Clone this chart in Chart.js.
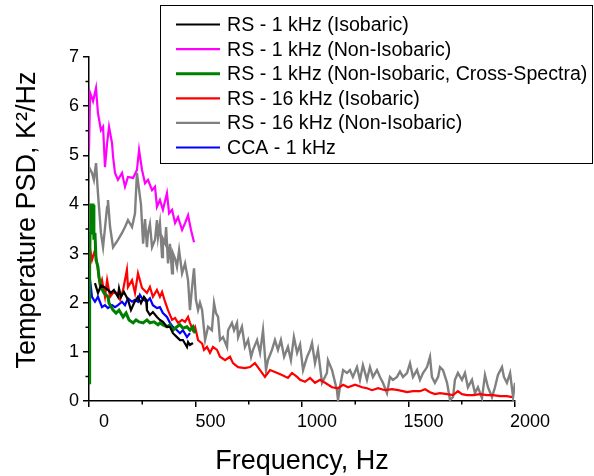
<!DOCTYPE html>
<html>
<head>
<meta charset="utf-8">
<script src="https://cdn.jsdelivr.net/npm/chart.js@4.4.1/dist/chart.umd.min.js"></script>
<style>
  body { margin: 0; background: #fff; }
  #chart { display: block; }
</style>
</head>
<body>
<canvas id="chart" width="594" height="476"></canvas>
<script>
// RS - 1 kHz (Isobaric)
const rs1IsoHz = [28,42,56,70,89,103,117,136,141,150,164,183,197,211,230,244,258,268,272,286,300,319,333,347,366,380,394,413,427,441,460,465,474,488];
const rs1IsoPsd = [2.4,2.2,2.35,2.32,2.26,2.2,2.26,2.12,2.29,2.12,2.22,2.06,1.85,1.99,2.12,1.99,2.12,2.06,1.85,1.75,1.81,1.71,1.65,1.61,1.51,1.51,1.38,1.3,1.24,1.24,1.1,1.2,1.14,1.18];

// RS - 1 kHz (Non-Isobaric)
const rs1NonIsoHz = [0,5,19,33,42,56,66,75,85,94,108,113,122,136,155,169,183,207,225,235,249,263,277,296,310,319,333,347,366,376,390,404,418,437,451,465,479,493];
const rs1NonIsoPsd = [5.1,6.27,6.1,6.37,5.86,5.51,5.58,4.76,5.25,5.58,5.25,4.97,4.64,4.5,4.64,4.36,4.56,4.54,4.7,5.11,4.7,4.43,4.5,4.29,4.36,3.95,4.09,3.89,4.23,3.82,3.89,3.62,3.74,3.48,3.62,3.78,3.48,3.23];

// RS - 1 kHz (Non-Isobaric, Cross-Spectra)
const rs1CrossHz = [0,3,5,9,19,23,28,33,42,47,56,70,89,94,113,127,141,160,174,188,207,221,235,254,272,286,305,324,333,347,366,380,394,413,427,441,460,474,488,498];
const rs1CrossPsd = [0.37,2.8,3.42,3.99,3.99,3.28,3.42,2.87,2.73,2.52,2.32,2.2,2.12,1.99,1.85,1.79,1.85,1.71,1.79,1.65,1.59,1.65,1.61,1.59,1.65,1.59,1.61,1.55,1.59,1.55,1.51,1.55,1.44,1.51,1.55,1.48,1.51,1.44,1.51,1.38];

// RS - 16 kHz (Isobaric)
const rs16IsoHz = [0,5,14,28,38,52,61,75,85,99,113,131,146,160,178,183,202,216,230,249,272,286,300,319,333,343,357,371,390,404,418,437,451,465,474,488,498,512,531,540,554,568,582,601,615,639,662,676,700,732,756,779,803,826,850,873,906,934,953,977,991,1014,1038,1061,1085,1108,1141,1169,1193,1216,1249,1282,1305,1329,1357,1390,1423,1451,1474,1493,1521,1554,1578,1601,1624,1648,1681,1709,1732,1751,1775,1803,1836,1869,1897,1930,1962,1986];
const rs16IsoPsd = [2.9,3.1,2.87,3.07,2.8,2.32,2.46,2.12,2.46,2.12,2.2,2.2,2.06,2.26,2.67,2.32,2.46,2.2,2.6,2.3,2.2,2.32,2.12,2.26,2.12,2.22,2.02,1.85,1.65,1.69,1.59,1.65,1.61,1.71,1.59,1.44,1.51,1.24,1.17,1.04,1.1,0.98,1.1,1.04,0.9,0.83,0.9,0.77,0.69,0.67,0.69,0.77,0.63,0.49,0.63,0.59,0.53,0.47,0.57,0.49,0.43,0.39,0.47,0.37,0.43,0.37,0.28,0.26,0.33,0.28,0.33,0.28,0.26,0.22,0.26,0.22,0.24,0.22,0.2,0.18,0.2,0.2,0.24,0.18,0.14,0.16,0.14,0.12,0.2,0.14,0.12,0.12,0.14,0.12,0.12,0.1,0.1,0.08];

// RS - 16 kHz (Non-Isobaric)
const rs16NonIsoHz = [0,14,23,33,42,56,66,85,89,99,113,136,155,169,183,202,216,225,235,244,254,263,272,277,286,296,310,319,324,333,343,347,357,362,371,380,390,394,404,413,423,437,451,465,474,484,493,502,512,521,531,545,559,577,587,596,606,615,629,648,653,671,681,695,700,718,732,747,761,770,789,803,817,831,840,859,873,887,901,916,934,948,962,977,991,1005,1024,1038,1047,1061,1075,1094,1117,1122,1141,1164,1169,1178,1193,1211,1225,1239,1258,1272,1286,1305,1319,1333,1352,1366,1380,1399,1413,1427,1446,1460,1474,1493,1507,1521,1540,1554,1568,1587,1601,1610,1624,1639,1648,1662,1681,1695,1709,1718,1732,1751,1765,1779,1798,1812,1826,1845,1859,1873,1892,1906,1920,1939,1948,1962,1977,1991,2000];
const rs16NonIsoPsd = [4.76,4.64,4.5,4.84,4.23,3.42,3.13,3.95,4.09,3.54,3.13,3.28,3.42,3.54,3.68,3.54,3.82,4.64,4.3,4.0,3.2,3.7,3.13,3.42,3.6,3.13,3.28,3.68,3.34,3.62,2.93,3.3,3.21,3.54,2.8,3.2,2.6,3.01,2.9,2.73,3.07,2.6,2.8,2.46,1.85,2.32,2.7,2.06,1.85,2.0,1.85,1.24,1.51,1.44,1.99,1.79,1.71,1.24,1.30,1.1,1.44,1.59,1.44,1.59,1.30,1.51,1.1,1.24,0.9,1.04,1.24,0.98,1.44,0.63,0.83,1.04,1.24,1.04,1.24,0.9,1.1,0.83,1.30,0.98,1.15,0.63,0.9,1.04,1.18,0.77,1.04,0.37,0.57,0.83,0.63,0.22,0.02,0.28,0.63,0.57,0.63,0.49,0.69,0.43,0.73,0.43,0.69,0.49,0.63,0.49,0.37,0.16,0.49,0.43,0.49,0.6,0.49,0.57,0.77,0.49,0.63,0.43,0.57,0.69,0.9,0.49,0.37,0.49,0.69,0.63,0.37,0.02,0.08,0.43,0.57,0.43,0.57,0.28,0.43,0.16,0.28,0.06,0.53,0.28,0.08,0.28,0.53,0.69,0.49,0.37,0.57,0.08,0.37];

// CCA - 1 kHz
const ccaHz = [0,5,14,28,42,61,75,89,108,122,136,155,169,183,202,216,230,239,254,272,286,300,319,333,347,366,380,394,413,427,441,460,474];
const ccaPsd = [2.4,2.46,2.12,2.02,2.12,1.91,1.95,1.89,1.95,1.91,1.95,2.02,1.95,2.09,2.02,2.06,2.02,2.16,2.06,2.02,2.09,1.95,1.89,1.91,1.79,1.71,1.59,1.51,1.44,1.38,1.44,1.3,1.38];

const xTickLabels = [0, 500, 1000, 1500, 2000];
const yTickLabels = [0, 1, 2, 3, 4, 5, 6, 7];

const FONT = '"Liberation Sans", Arial, sans-serif';

function toPoints(xs, ys) {
    return xs.map((x, i) => ({ x: x, y: ys[i] }));
}

function makeSet(label, xs, ys, color, width) {
    return {
        label: label,
        data: toPoints(xs, ys),
        borderColor: color,
        backgroundColor: color,
        borderWidth: width,
        pointRadius: 0,
        tension: 0,
        fill: false
    };
}

const datasets = [
    makeSet("RS - 1 kHz (Isobaric)", rs1IsoHz, rs1IsoPsd, "#000000", 2.2),
    makeSet("RS - 1 kHz (Non-Isobaric)", rs1NonIsoHz, rs1NonIsoPsd, "#ff00ff", 2.2),
    makeSet("RS - 1 kHz (Non-Isobaric, Cross-Spectra)", rs1CrossHz, rs1CrossPsd, "#008000", 3),
    makeSet("RS - 16 kHz (Isobaric)", rs16IsoHz, rs16IsoPsd, "#ff0000", 2.2),
    makeSet("RS - 16 kHz (Non-Isobaric)", rs16NonIsoHz, rs16NonIsoPsd, "#808080", 2.4),
    makeSet("CCA - 1 kHz", ccaHz, ccaPsd, "#0000ff", 2.2)
];

// white page + minor ticks + axis titles + boxed legend
const decorations = {
    id: "decorations",
    beforeDraw(chart) {
        const ctx = chart.ctx;
        ctx.save();
        ctx.fillStyle = "#fff";
        ctx.fillRect(0, 0, chart.width, chart.height);
        ctx.restore();
    },
    afterDraw(chart) {
        const ctx = chart.ctx;
        const xs = chart.scales.x, ys = chart.scales.y;
        const area = chart.chartArea;
        ctx.save();

        // minor ticks
        ctx.strokeStyle = "#000";
        ctx.lineWidth = 1.5;
        ctx.beginPath();
        for (let v = 250; v < 2000; v += 500) {
            const px = xs.getPixelForValue(v);
            ctx.moveTo(px, area.bottom);
            ctx.lineTo(px, area.bottom + 3.5);
        }
        for (let v = 0.5; v < 7; v += 1) {
            const py = ys.getPixelForValue(v);
            ctx.moveTo(area.left, py);
            ctx.lineTo(area.left - 3.5, py);
        }
        ctx.stroke();

        // axis titles
        ctx.fillStyle = "#000";
        ctx.font = "27px " + FONT;
        ctx.textAlign = "center";
        ctx.textBaseline = "alphabetic";
        ctx.fillText("Frequency, Hz", (area.left + area.right) / 2, 469);
        ctx.translate(35, 220);
        ctx.rotate(-Math.PI / 2);
        ctx.fillText("Temperature PSD, K\u00b2/Hz", 0, 0);
        ctx.restore();

        // legend
        ctx.save();
        ctx.strokeStyle = "#000";
        ctx.lineWidth = 1;
        ctx.strokeRect(160.5, 5.5, 432, 158);
        ctx.font = "19.6px " + FONT;
        ctx.textAlign = "left";
        ctx.textBaseline = "middle";
        chart.data.datasets.forEach((ds, i) => {
            const y = 24.5 + i * 24.6;
            ctx.strokeStyle = ds.borderColor;
            ctx.lineWidth = ds.borderWidth;
            ctx.beginPath();
            ctx.moveTo(176, y);
            ctx.lineTo(220, y);
            ctx.stroke();
            ctx.fillStyle = "#000";
            ctx.fillText(ds.label, 227, y + 1);
        });
        ctx.restore();
    }
};

const ctx = document.getElementById("chart").getContext("2d");
new Chart(ctx, {
    type: "line",
    data: { datasets },
    plugins: [decorations],
    options: {
        responsive: false,
        animation: false,
        layout: { padding: { left: 0, top: 57, right: 79, bottom: 0 } },
        plugins: {
            legend: { display: false },
            tooltip: { enabled: false }
        },
        scales: {
            x: {
                type: "linear",
                min: 0,
                max: 2000,
                afterFit: scale => { scale.height = 75; },
                afterBuildTicks: scale => { scale.ticks = xTickLabels.map(v => ({ value: v })); },
                border: { color: "#000", width: 1.5 },
                grid: { display: true, drawOnChartArea: false, drawTicks: true, tickLength: 6, color: "#000", lineWidth: 1.5 },
                ticks: {
                    color: "#000",
                    font: { family: FONT, size: 18 },
                    padding: 4,
                    labelOffset: 15,
                    maxRotation: 0,
                    callback: v => String(v)
                }
            },
            y: {
                type: "linear",
                min: 0,
                max: 7,
                afterFit: scale => { scale.width = 89; },
                afterBuildTicks: scale => { scale.ticks = yTickLabels.map(v => ({ value: v })); },
                border: { color: "#000", width: 1.5 },
                grid: { display: true, drawOnChartArea: false, drawTicks: true, tickLength: 6, color: "#000", lineWidth: 1.5 },
                ticks: {
                    color: "#000",
                    font: { family: FONT, size: 18 },
                    padding: 4,
                    callback: v => String(v)
                }
            }
        }
    }
});
</script>
</body>
</html>
